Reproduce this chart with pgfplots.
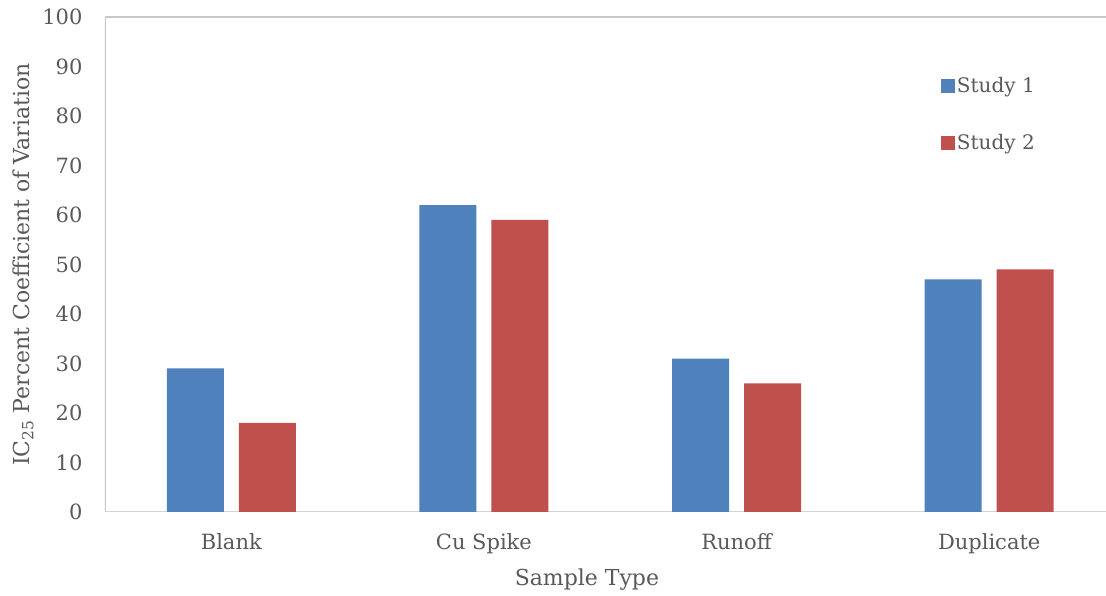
\documentclass[border=0pt]{standalone}
\usepackage{fontspec}
\setmainfont{DejaVu Serif}
\usepackage{pgfplots}
\pgfplotsset{compat=1.18}
\definecolor{sblue}{RGB}{79,129,189}
\definecolor{sred}{RGB}{192,80,77}
\definecolor{txt}{RGB}{89,89,89}
\definecolor{axl}{RGB}{200,200,200}
\begin{document}
\begin{tikzpicture}[x=1pt,y=1pt]
\begin{axis}[
  name=ax,
  at={(105pt,84pt)}, anchor=south west,
  scale only axis,
  width=1001pt, height=495pt,
  xmin=-0.5, xmax=3.462,
  ymin=0, ymax=100,
  ytick={0,10,...,100},
  xtick={0,1,2,3},
  xticklabels={Blank,Cu Spike,Runoff,Duplicate},
  major tick length=0pt,
  axis line style={draw=none},
  tick label style={font=\fontsize{21}{25}\selectfont, text=txt},
  /pgf/number format/assume math mode=true,
  yticklabel style={xshift=-19pt},
  xticklabel style={yshift=-18pt},
  ylabel={IC\textsubscript{25} Percent Coefficient of Variation},
  xlabel={Sample Type},
  label style={font=\fontsize{22}{26}\selectfont, text=txt},
  ylabel style={at={(axis description cs:-0.082,0.50)}, anchor=center},
  xlabel style={at={(axis description cs:0.4815,-0.137)}, anchor=center},
  ybar, bar width=0.2256, bar shift auto=false,
  legend style={at={(axis description cs:0.835,0.882)}, anchor=north west, draw=none, fill=none,
    font=\fontsize{20}{24}\selectfont, text=txt, row sep=36pt, inner sep=0pt,
    /tikz/every even column/.append style={column sep=5pt}},
  legend cell align=left,
]
\draw[axl, line width=1.3pt] (rel axis cs:0,0) -- (rel axis cs:0,1) -- (rel axis cs:1,1);
\draw[axl!80, line width=1.3pt] (rel axis cs:0,0) -- (rel axis cs:1,0);
\addplot[fill=sblue, draw=none, bar shift=-0.1425,
  legend image code/.code={\fill[sblue] (0pt,-7pt) rectangle (14pt,7pt);}]
  coordinates {(0,29) (1,62) (2,31) (3,47)};
\addlegendentry{Study 1}
\addplot[fill=sred, draw=none, bar shift=0.1425,
  legend image code/.code={\fill[sred] (0pt,-7pt) rectangle (14pt,7pt);}]
  coordinates {(0,18) (1,59) (2,26) (3,49)};
\addlegendentry{Study 2}
\end{axis}
\path[use as bounding box] (0,0) rectangle (1106pt,596pt);
\end{tikzpicture}
\end{document}
